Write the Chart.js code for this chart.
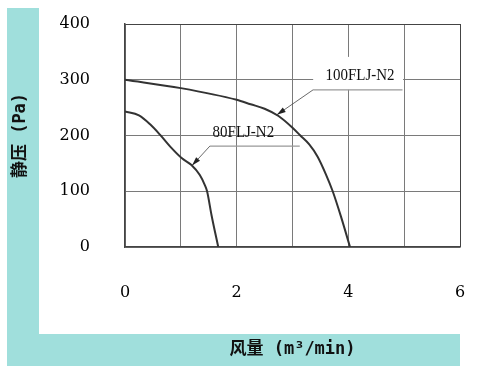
<!DOCTYPE html>
<html>
<head>
<meta charset="utf-8">
<script src="https://cdn.jsdelivr.net/npm/chart.js@4.4.1/dist/chart.umd.min.js"></script>
<style>
  html, body { margin: 0; padding: 0; background: #fff; }
  #wrap { width: 492px; height: 388px; }
</style>
</head>
<body>
<div id="wrap"><canvas id="chart" width="492" height="388"></canvas></div>
<script>
// curve values (x = 风量 m3/min, y = 静压 Pa)
const flow100 = [0, 1, 2, 2.25, 2.5, 2.75, 3.0, 3.14, 3.3, 3.45, 3.6, 3.72, 3.87, 4.03];
const press100 = [300, 285, 264, 256, 248, 235, 214, 200, 184, 162, 130, 100, 54, 0];
const flow80 = [0, 0.25, 0.45, 0.63, 0.81, 1.02, 1.19, 1.34, 1.43, 1.47, 1.55, 1.67];
const press80 = [243, 236, 220, 201, 180, 159, 147, 129, 111, 100, 57, 0];

const xGrid = [0, 1, 2, 3, 4, 5, 6];
const xTickLabels = [0, 2, 4, 6];
const yTickLabels = [0, 100, 200, 300, 400];

const TEAL = '#a0dfdc';
const INK = '#333';

Chart.defaults.font.family = "'DejaVu Serif', serif";
Chart.defaults.color = '#000';

const toPoints = (xs, ys) => xs.map((x, i) => ({ x: x, y: ys[i] }));

// leader-line labels, anchored in data units
const notes = [
  { text: '100FLJ-N2', tip: [2.72, 237], elbow: [3.37, 282], end: [4.97, 282], at: [4.21, 307],
    box: [3.37, 341, 4.98, 282] },
  { text: '80FLJ-N2', tip: [1.20, 146], elbow: [1.52, 181], end: [3.13, 181], at: [2.12, 205] }
];

const decor = {
  id: 'decor',
  beforeDraw(chart) {
    const ctx = chart.ctx;
    const area = chart.chartArea;
    ctx.save();
    ctx.fillStyle = '#fff';
    ctx.fillRect(0, 0, chart.width, chart.height);
    ctx.fillStyle = TEAL;
    ctx.fillRect(7, 8, 32, 358);
    ctx.fillRect(7, 334, area.right - 7, 32);
    ctx.restore();
  },
  afterDatasetsDraw(chart) {
    const ctx = chart.ctx;
    const sx = chart.scales.x, sy = chart.scales.y;
    const px = v => sx.getPixelForValue(v);
    const py = v => sy.getPixelForValue(v);
    ctx.save();
    notes.forEach(n => {
      if (n.box) {
        ctx.fillStyle = '#fff';
        ctx.fillRect(px(n.box[0]), py(n.box[1]), px(n.box[2]) - px(n.box[0]), py(n.box[3]) - py(n.box[1]));
      }
      const ex = px(n.elbow[0]), ey = py(n.elbow[1]);
      const tx = px(n.tip[0]), ty = py(n.tip[1]);
      // underline
      ctx.strokeStyle = '#999';
      ctx.lineWidth = 1.2;
      ctx.beginPath();
      ctx.moveTo(ex, ey);
      ctx.lineTo(px(n.end[0]), py(n.end[1]));
      ctx.stroke();
      // leader
      ctx.strokeStyle = '#444';
      ctx.lineWidth = 0.8;
      ctx.beginPath();
      ctx.moveTo(ex, ey);
      ctx.lineTo(tx, ty);
      ctx.stroke();
      // arrow head
      const ang = Math.atan2(ty - ey, tx - ex);
      const len = 9, half = 2.6;
      ctx.fillStyle = '#222';
      ctx.beginPath();
      ctx.moveTo(tx, ty);
      ctx.lineTo(tx - len * Math.cos(ang) + half * Math.sin(ang), ty - len * Math.sin(ang) - half * Math.cos(ang));
      ctx.lineTo(tx - len * Math.cos(ang) - half * Math.sin(ang), ty - len * Math.sin(ang) + half * Math.cos(ang));
      ctx.closePath();
      ctx.fill();
      // label text, slightly condensed
      ctx.save();
      ctx.translate(px(n.at[0]), py(n.at[1]));
      ctx.scale(0.88, 1);
      ctx.fillStyle = '#111';
      ctx.font = "17px 'Liberation Serif', serif";
      ctx.textAlign = 'center';
      ctx.textBaseline = 'middle';
      ctx.fillText(n.text, 0, 0);
      ctx.restore();
    });
    ctx.restore();
  }
};

const edgeColor = (ctx, edgeValue) => ctx.tick && ctx.tick.value === edgeValue ? '#444' : '#7a7a7a';

new Chart(document.getElementById('chart'), {
  type: 'line',
  data: {
    datasets: [
      { label: '100FLJ-N2', data: toPoints(flow100, press100) },
      { label: '80FLJ-N2', data: toPoints(flow80, press80) }
    ]
  },
  options: {
    responsive: false,
    animation: false,
    layout: { padding: { top: 24, right: 32, bottom: 16, left: 0 } },
    elements: {
      line: { borderColor: INK, borderWidth: 2, tension: 0.4, cubicInterpolationMode: 'monotone', fill: false },
      point: { radius: 0 }
    },
    plugins: {
      legend: { display: false },
      tooltip: { enabled: false }
    },
    scales: {
      x: {
        type: 'linear',
        min: 0,
        max: 6,
        afterBuildTicks(scale) { scale.ticks = xGrid.map(v => ({ value: v })); },
        afterFit(scale) {
          scale.height = 125;
          scale.paddingLeft = 0;
          scale.paddingRight = 0;
        },
        ticks: {
          padding: 36,
          font: { size: 16 },
          callback: v => xTickLabels.includes(v) ? String(v) : ''
        },
        grid: { drawTicks: false, color: c => edgeColor(c, 6), lineWidth: 1 },
        border: { color: '#444', width: 1.5 },
        title: {
          display: true,
          text: '风量 (m³/min)',
          color: '#111',
          font: { family: "'DejaVu Sans Mono', 'Noto Sans CJK SC', monospace", size: 17, weight: 'bold' },
          padding: { top: 0, bottom: 12 }
        }
      },
      y: {
        min: 0,
        max: 400,
        afterBuildTicks(scale) { scale.ticks = yTickLabels.map(v => ({ value: v })); },
        afterFit(scale) {
          scale.width = 125;
          scale.paddingTop = 0;
          scale.paddingBottom = 0;
        },
        ticks: { padding: 35, font: { size: 16 } },
        grid: { drawTicks: false, color: c => edgeColor(c, 400), lineWidth: 1 },
        border: { color: '#444', width: 1.5 },
        title: {
          display: true,
          text: '静压 (Pa)',
          color: '#111',
          font: { family: "'DejaVu Sans Mono', 'Noto Sans CJK SC', monospace", size: 17, weight: 'bold' },
          padding: { top: 10, bottom: 0 }
        }
      }
    }
  },
  plugins: [decor]
});
</script>
</body>
</html>
